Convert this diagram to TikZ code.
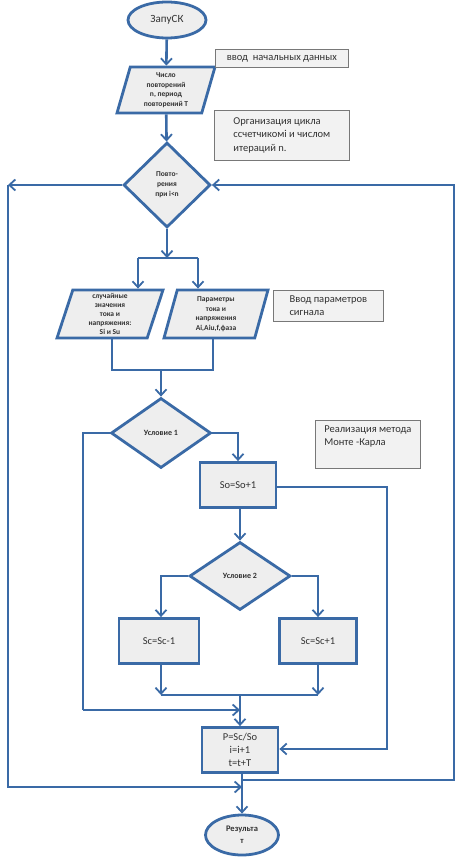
\documentclass[tikz,border=0pt]{standalone}
\usepackage{fontspec}
\setmainfont{Carlito}
\usetikzlibrary{shapes.geometric,arrows.meta}

\definecolor{flowblue}{RGB}{58,106,166}
\definecolor{shapefill}{RGB}{238,238,238}
\definecolor{notefill}{RGB}{242,242,242}
\definecolor{noteline}{RGB}{120,120,120}
\definecolor{textgray}{RGB}{50,50,50}

\begin{document}
\begin{tikzpicture}[x=1pt,y=-1pt,
  every node/.style={text=textgray,align=center,inner sep=0pt},
  blk/.style={draw=flowblue,line width=2.8pt,fill=shapefill},
  startstop/.style={blk,ellipse,minimum width=78pt,minimum height=36pt,font=\fontsize{11}{13}\selectfont},
  io/.style={blk,trapezium,trapezium left angle=69,trapezium right angle=111,
    trapezium stretches body,minimum width=98pt,minimum height=46pt,
    font=\fontsize{7.5}{9.5}\selectfont\bfseries},
  decision/.style={blk,diamond,font=\fontsize{7.5}{10}\selectfont\bfseries},
  process/.style={blk,rectangle,minimum width=76pt,minimum height=45pt,font=\fontsize{10.5}{13}\selectfont},
  note/.style={draw=noteline,line width=0.8pt,fill=notefill,rectangle,align=left,
    inner xsep=7pt,anchor=north west,font=\fontsize{10.5}{13.5}\selectfont},
  flow/.style={draw=flowblue,line width=2.6pt},
  arr/.style={flow,-{Straight Barb[length=6pt,width=11pt,line width=1.8pt]}}]
\useasboundingbox (0,0) rectangle (456,858);

% main chain
\node[startstop] (start) at (167,20) {ЗапуСК};
\node[io] (input) at (166,90) {Число\\повторений\\n, период\\повторений T};
\node[decision,minimum width=87pt,minimum height=85pt] (loop) at (167,185) {Повто-\\рения\\при i<n};
\node[io,minimum width=106pt,minimum height=48pt,font=\fontsize{7.5}{9}\selectfont\bfseries] (randin) at (110,314) {случайные\\значения\\тока и\\напряжения:\\Si и Su};
\node[io,minimum width=104pt,minimum height=48pt] (paramin) at (216,314) {Параметры\\тока и\\напряжения\\Ai,Aiu,f,фаза};
\node[decision,minimum width=100pt,minimum height=70pt,font=\fontsize{8}{10}\selectfont\bfseries] (cond1) at (161,433) {Условие 1};
\node[process] (so) at (238,485) {So=So+1};
\node[decision,minimum width=101pt,minimum height=68pt,font=\fontsize{8}{10}\selectfont\bfseries] (cond2) at (240,576) {Условие 2};
\node[process,minimum width=80pt] (scm) at (159,641) {Sc=Sc-1};
\node[process,minimum width=77pt] (scp) at (318,641) {Sc=Sc+1};
\node[process] (calc) at (240,750) {P=Sc/So\\i=i+1\\t=t+T};
\node[startstop,minimum width=73pt,minimum height=40pt,font=\fontsize{8.5}{12}\selectfont\bfseries] (result) at (242,835) {Результа\\т};

% notes
\node[note,minimum width=133pt,minimum height=18pt] (note1) at (215,49) {ввод\ \ начальных данных};
\node[note,minimum width=135pt,minimum height=50pt] (note2) at (214,110) {Организация цикла\\ссчетчикомi и числом\\итераций n.};
\node[note,minimum width=110pt,minimum height=31pt] (note3) at (273,290) {Ввод параметров\\сигнала};
\node[note,minimum width=105pt,minimum height=48pt,text depth=18pt] (note4) at (315,420) {Реализация метода\\Монте -Карла};

% free ends
\coordinate (split) at (167,258);
\coordinate (splitL) at (138,258);
\coordinate (splitR) at (198,258);
\coordinate (join1L) at (112,370);
\coordinate (join1R) at (213,370);
\coordinate (join1) at (161,370);
\coordinate (c1R) at (238,433);
\coordinate (c1L) at (83,433);
\coordinate (c1D) at (83,710);
\coordinate (c1E) at (240,710);
\coordinate (soR) at (387,487);
\coordinate (soD) at (387,749);
\coordinate (c2L) at (161,576);
\coordinate (c2R) at (318,576);
\coordinate (join2L) at (161,695);
\coordinate (join2R) at (318,695);
\coordinate (join2) at (240,695);
\coordinate (backS) at (242,780);
\coordinate (backR) at (454,780);
\coordinate (backT) at (454,185);
\coordinate (exitL) at (8,185);
\coordinate (exitD) at (8,787);
\coordinate (exitE) at (242,787);

\draw[arr] (start) -- (input);
\draw[arr] (input) -- (loop);
\draw[arr] (loop) -- (split);
\draw[flow] (splitL) -- (splitR);
\draw[arr] (splitL) -- (randin.north -| splitL);
\draw[arr] (splitR) -- (paramin.north -| splitR);
\draw[flow] (randin.south -| join1L) -- (join1L) -- (join1R) -- (paramin.south -| join1R);
\draw[arr] (join1) -- (cond1);
\draw[arr] (cond1.east) -- (c1R) -- (so.north -| c1R);
\draw[flow] (cond1.west) -- (c1L) -- (c1D);
\draw[arr] (c1D) -- (c1E);
\draw[arr] (so.east |- soR) -- (soR) -- (soD) -- (calc.east |- soD);
\draw[arr] (so.south -| cond2.north) -- (cond2);
\draw[arr] (cond2.west) -- (c2L) -- (scm.north -| c2L);
\draw[arr] (cond2.east) -- (c2R) -- (scp.north -| c2R);
\draw[arr] (scm.south -| join2L) -- (join2L);
\draw[arr] (scp.south -| join2R) -- (join2R);
\draw[flow] (join2L) -- (join2R);
\draw[arr] (join2) -- (calc);
\draw[arr] (calc.south -| result.north) -- (result);
% loop back and exit
\draw[arr] (backS) -- (backR) -- (backT) -- (loop.east);
\draw[arr] (loop.west) -- (exitL);
\draw[arr] (exitL) -- (exitD) -- (exitE);
\end{tikzpicture}
\end{document}
